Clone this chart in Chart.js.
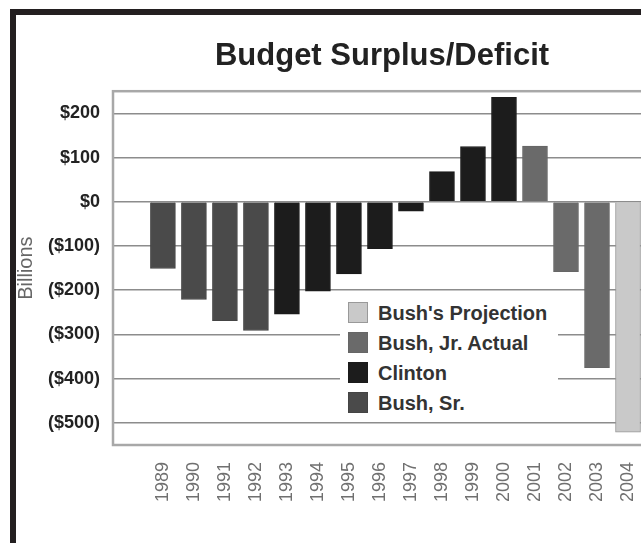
<!DOCTYPE html>
<html>
<head>
<meta charset="utf-8">
<script src="https://cdn.jsdelivr.net/npm/chart.js@4"></script>
<style>
  html, body { margin: 0; padding: 0; background: #fff; width: 641px; height: 543px; overflow: hidden; }
  #frame { position: absolute; left: 10px; top: 9px; width: 800px; height: 700px; border: 6px solid #231f20; }
  #wrap { position: absolute; left: 16px; top: 15px; width: 732px; height: 528px; }
  #legend { position: absolute; left: 340px; top: 296px; width: 218px; height: 124px; background: #fff;
            font-family: "Liberation Sans", Arial, sans-serif; font-weight: bold; font-size: 20px; color: #333; }
  #legend .row { position: absolute; left: 8px; height: 22px; }
  #legend .box { position: absolute; left: 0; top: 0; width: 20px; height: 21px; box-sizing: border-box; }
  #legend .txt { position: absolute; left: 30px; top: 0; line-height: 22px; white-space: nowrap; }
</style>
</head>
<body>
<div id="frame"></div>
<div id="wrap"><canvas id="myChart"></canvas></div>
<div id="legend"></div>
<script>
const ctx = document.getElementById('myChart');

// data (billions of dollars)
var years = [1989, 1990, 1991, 1992, 1993, 1994, 1995, 1996, 1997, 1998, 1999, 2000, 2001, 2002, 2003, 2004];
var bushSr = [-151, -221, -269, -291, null, null, null, null, null, null, null, null, null, null, null, null];
var clinton = [null, null, null, null, -254, -202, -163, -106, -21, 68, 125, 236, null, null, null, null];
var bushJr = [null, null, null, null, null, null, null, null, null, null, null, null, 126, -158, -375, null];
var projection = [null, null, null, null, null, null, null, null, null, null, null, null, null, null, null, -521];
var yTicks = [200, 100, 0, -100, -200, -300, -400, -500];
var yTickLabels = ['$200', '$100', '$0', '($100)', '($200)', '($300)', '($400)', '($500)'];

function points(values) {   // pair each value with its year
    return values.map(function (v, i) { return { x: years[i], y: v }; });
}

var series = [
    { label: 'Bush, Sr.', data: points(bushSr), backgroundColor: '#4a4a4a', borderColor: '#444' },
    { label: 'Clinton', data: points(clinton), backgroundColor: '#1c1c1c', borderColor: '#1a1a1a' },
    { label: 'Bush, Jr. Actual', data: points(bushJr), backgroundColor: '#6a6a6a', borderColor: '#666' },
    { label: "Bush's Projection", data: points(projection), backgroundColor: '#c9c9c9', borderColor: '#999' }
];

// gray frame round the plot area
var plotFrame = {
    id: 'plotFrame',
    beforeDatasetsDraw: function (chart) {
        var a = chart.chartArea, c = chart.ctx;
        c.save();
        c.strokeStyle = '#a8a8a8';
        c.lineWidth = 2.5;
        c.strokeRect(a.left, a.top, a.right - a.left, a.bottom - a.top);
        c.restore();
    }
};

new Chart(ctx, {
    type: 'bar',
    data: {
        datasets: series.map(function (s) {
            return Object.assign({ borderWidth: 1, barThickness: 25, skipNull: true }, s);
        })
    },
    options: {
        responsive: true,
        maintainAspectRatio: false,
        animation: false,
        layout: { padding: 0 },
        plugins: {
            legend: { display: false },
            tooltip: { enabled: false },
            title: {
                display: true,
                text: 'Budget Surplus/Deficit',
                color: '#222',
                font: { family: '"Liberation Sans", Arial, sans-serif', size: 31, weight: 'bold', lineHeight: 1.2 },
                padding: { top: 23, bottom: 16 }
            }
        },
        scales: {
            x: {
                type: 'linear',
                stacked: true,
                min: 1988.03,
                max: 2007.23,
                grid: { display: false, drawTicks: false },
                border: { display: false },
                afterBuildTicks: function (scale) {
                    scale.ticks = years.map(function (y) { return { value: y }; });
                },
                afterFit: function (scale) { scale.height = 98; },
                ticks: {
                    autoSkip: false,
                    minRotation: 90,
                    maxRotation: 90,
                    padding: 17,
                    color: '#707070',
                    font: { family: '"Liberation Sans", Arial, sans-serif', size: 18 },
                    callback: function (v) { return String(v); }
                }
            },
            y: {
                stacked: true,
                min: -550,
                max: 250,
                grid: { color: '#8c8c8c', lineWidth: 1.5, drawTicks: false },
                border: { display: false },
                afterBuildTicks: function (scale) {
                    scale.ticks = yTicks.map(function (v) { return { value: v }; });
                },
                afterFit: function (scale) { scale.width = 97; },
                ticks: {
                    padding: 13,
                    color: '#222',
                    font: { family: '"Liberation Sans", Arial, sans-serif', size: 18, weight: 'bold' },
                    callback: function (v) { return yTickLabels[yTicks.indexOf(v)]; }
                },
                title: {
                    display: true,
                    text: 'Billions',
                    color: '#666',
                    padding: 0,
                    font: { family: '"Liberation Sans", Arial, sans-serif', size: 20, lineHeight: 1 }
                }
            }
        }
    },
    plugins: [plotFrame]
});

// legend inside the plot, listed in reverse order
var legend = document.getElementById('legend');
series.slice().reverse().forEach(function (s, i) {
    var row = document.createElement('div');
    row.className = 'row';
    row.style.top = (6 + i * 30) + 'px';
    var box = document.createElement('div');
    box.className = 'box';
    box.style.background = s.backgroundColor;
    box.style.border = '1px solid ' + s.borderColor;
    var txt = document.createElement('div');
    txt.className = 'txt';
    txt.textContent = s.label;
    row.appendChild(box);
    row.appendChild(txt);
    legend.appendChild(row);
});
</script>
</body>
</html>
